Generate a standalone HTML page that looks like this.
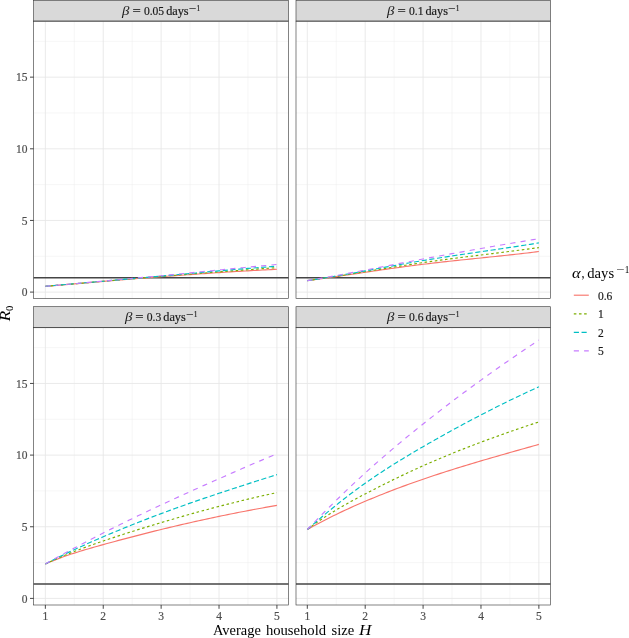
<!DOCTYPE html>
<html><head><meta charset="utf-8"><title>R0 vs household size</title>
<style>
html,body{margin:0;padding:0;background:#fff}
svg{display:block}
text{font-family:"Liberation Serif","DejaVu Serif",serif;fill:#1a1a1a;stroke:#1a1a1a;stroke-width:0.18px}
.s{font-size:11.5px}
.a{font-size:11.5px;fill:#4d4d4d;stroke:#4d4d4d}
.l{fill:#1a1a1a;stroke:#1a1a1a}
.t{font-size:14px;fill:#000;stroke:none}
.i{font-style:italic;stroke:none}
.sup{font-size:8px}
.sup2{font-size:9.8px}
.sub{font-size:9.8px}
</style></head><body>
<svg width="629" height="638" viewBox="0 0 629 638">
<rect width="629" height="638" fill="#fff"/>
<rect x="33.65" y="0.3" width="254.85" height="20.85" fill="#D9D9D9" stroke="#383838" stroke-width="0.62"/>
<rect x="33.65" y="21.15" width="254.85" height="277.4" fill="#fff"/>
<g fill="none"><path d="M33.65 256.28H288.5" stroke="#EBEBEB" stroke-width="0.45"/><path d="M33.65 184.63H288.5" stroke="#EBEBEB" stroke-width="0.45"/><path d="M33.65 112.98H288.5" stroke="#EBEBEB" stroke-width="0.45"/><path d="M33.65 41.33H288.5" stroke="#EBEBEB" stroke-width="0.45"/><path d="M74.30 21.15V298.54999999999995" stroke="#EBEBEB" stroke-width="0.45"/><path d="M132.19 21.15V298.54999999999995" stroke="#EBEBEB" stroke-width="0.45"/><path d="M190.07 21.15V298.54999999999995" stroke="#EBEBEB" stroke-width="0.45"/><path d="M247.97 21.15V298.54999999999995" stroke="#EBEBEB" stroke-width="0.45"/><path d="M33.65 292.10H288.5" stroke="#E6E6E6" stroke-width="0.85"/><path d="M33.65 220.45H288.5" stroke="#E6E6E6" stroke-width="0.85"/><path d="M33.65 148.80H288.5" stroke="#E6E6E6" stroke-width="0.85"/><path d="M33.65 77.15H288.5" stroke="#E6E6E6" stroke-width="0.85"/><path d="M45.35 21.15V298.54999999999995" stroke="#E6E6E6" stroke-width="0.85"/><path d="M103.24 21.15V298.54999999999995" stroke="#E6E6E6" stroke-width="0.85"/><path d="M161.13 21.15V298.54999999999995" stroke="#E6E6E6" stroke-width="0.85"/><path d="M219.02 21.15V298.54999999999995" stroke="#E6E6E6" stroke-width="0.85"/><path d="M276.91 21.15V298.54999999999995" stroke="#E6E6E6" stroke-width="0.85"/></g>
<path d="M33.65 277.77H288.5" stroke="#454545" stroke-width="1.45" fill="none"/>
<path d="M45.35 286.30L48.24 286.06L51.14 285.81L54.03 285.57L56.93 285.33L59.82 285.08L62.72 284.84L65.61 284.59L68.51 284.34L71.40 284.10L74.30 283.85L77.19 283.61L80.08 283.36L82.98 283.12L85.87 282.87L88.77 282.62L91.66 282.38L94.56 282.13L97.45 281.89L100.35 281.64L103.24 281.40L106.13 281.16L109.03 280.91L111.92 280.67L114.82 280.43L117.71 280.19L120.61 279.95L123.50 279.71L126.40 279.47L129.29 279.23L132.19 279.00L135.08 278.76L137.97 278.53L140.87 278.29L143.76 278.06L146.66 277.83L149.55 277.60L152.45 277.37L155.34 277.15L158.24 276.92L161.13 276.70L164.02 276.48L166.92 276.26L169.81 276.04L172.71 275.82L175.60 275.61L178.50 275.39L181.39 275.18L184.29 274.97L187.18 274.77L190.07 274.56L192.97 274.35L195.86 274.15L198.76 273.95L201.65 273.75L204.55 273.56L207.44 273.36L210.34 273.17L213.23 272.98L216.13 272.79L219.02 272.60L221.91 272.41L224.81 272.23L227.70 272.05L230.60 271.87L233.49 271.69L236.39 271.52L239.28 271.35L242.18 271.18L245.07 271.01L247.97 270.84L250.86 270.68L253.75 270.51L256.65 270.35L259.54 270.20L262.44 270.04L265.33 269.89L268.23 269.74L271.12 269.59L274.02 269.44L276.91 269.30" fill="none" stroke="#F8766D" stroke-width="1.15"/>
<path d="M45.35 286.30L48.24 286.05L51.14 285.81L54.03 285.56L56.93 285.31L59.82 285.06L62.72 284.81L65.61 284.57L68.51 284.32L71.40 284.06L74.30 283.81L77.19 283.56L80.08 283.31L82.98 283.06L85.87 282.81L88.77 282.56L91.66 282.31L94.56 282.05L97.45 281.80L100.35 281.55L103.24 281.30L106.13 281.05L109.03 280.80L111.92 280.55L114.82 280.30L117.71 280.05L120.61 279.80L123.50 279.55L126.40 279.30L129.29 279.06L132.19 278.81L135.08 278.57L137.97 278.32L140.87 278.08L143.76 277.83L146.66 277.59L149.55 277.35L152.45 277.11L155.34 276.87L158.24 276.64L161.13 276.40L164.02 276.17L166.92 275.93L169.81 275.70L172.71 275.47L175.60 275.24L178.50 275.01L181.39 274.78L184.29 274.56L187.18 274.33L190.07 274.10L192.97 273.88L195.86 273.66L198.76 273.44L201.65 273.21L204.55 272.99L207.44 272.77L210.34 272.55L213.23 272.34L216.13 272.12L219.02 271.90L221.91 271.68L224.81 271.47L227.70 271.25L230.60 271.03L233.49 270.82L236.39 270.60L239.28 270.39L242.18 270.17L245.07 269.96L247.97 269.75L250.86 269.53L253.75 269.32L256.65 269.10L259.54 268.89L262.44 268.67L265.33 268.46L268.23 268.25L271.12 268.03L274.02 267.82L276.91 267.60" fill="none" stroke="#7CAE00" stroke-width="1.15" stroke-dasharray="2.58 2.58"/>
<path d="M45.35 286.30L48.24 286.04L51.14 285.78L54.03 285.52L56.93 285.27L59.82 285.01L62.72 284.75L65.61 284.50L68.51 284.24L71.40 283.99L74.30 283.73L77.19 283.48L80.08 283.22L82.98 282.97L85.87 282.72L88.77 282.46L91.66 282.21L94.56 281.96L97.45 281.71L100.35 281.45L103.24 281.20L106.13 280.95L109.03 280.69L111.92 280.44L114.82 280.19L117.71 279.94L120.61 279.68L123.50 279.43L126.40 279.18L129.29 278.92L132.19 278.67L135.08 278.41L137.97 278.16L140.87 277.90L143.76 277.65L146.66 277.39L149.55 277.13L152.45 276.88L155.34 276.62L158.24 276.36L161.13 276.10L164.02 275.84L166.92 275.58L169.81 275.32L172.71 275.06L175.60 274.80L178.50 274.53L181.39 274.27L184.29 274.01L187.18 273.75L190.07 273.49L192.97 273.22L195.86 272.96L198.76 272.70L201.65 272.44L204.55 272.18L207.44 271.92L210.34 271.67L213.23 271.41L216.13 271.15L219.02 270.90L221.91 270.65L224.81 270.39L227.70 270.14L230.60 269.90L233.49 269.65L236.39 269.40L239.28 269.16L242.18 268.92L245.07 268.68L247.97 268.44L250.86 268.20L253.75 267.97L256.65 267.74L259.54 267.51L262.44 267.29L265.33 267.06L268.23 266.84L271.12 266.63L274.02 266.41L276.91 266.20" fill="none" stroke="#00BFC4" stroke-width="1.15" stroke-dasharray="5.16 2.58"/>
<path d="M45.35 286.30L48.24 286.04L51.14 285.78L54.03 285.52L56.93 285.26L59.82 285.01L62.72 284.75L65.61 284.49L68.51 284.23L71.40 283.97L74.30 283.71L77.19 283.45L80.08 283.19L82.98 282.93L85.87 282.67L88.77 282.41L91.66 282.15L94.56 281.89L97.45 281.62L100.35 281.36L103.24 281.10L106.13 280.84L109.03 280.57L111.92 280.31L114.82 280.04L117.71 279.78L120.61 279.51L123.50 279.25L126.40 278.98L129.29 278.71L132.19 278.44L135.08 278.17L137.97 277.90L140.87 277.63L143.76 277.36L146.66 277.08L149.55 276.81L152.45 276.53L155.34 276.26L158.24 275.98L161.13 275.70L164.02 275.42L166.92 275.14L169.81 274.86L172.71 274.58L175.60 274.29L178.50 274.01L181.39 273.72L184.29 273.44L187.18 273.15L190.07 272.87L192.97 272.58L195.86 272.29L198.76 272.01L201.65 271.72L204.55 271.43L207.44 271.14L210.34 270.86L213.23 270.57L216.13 270.29L219.02 270.00L221.91 269.71L224.81 269.43L227.70 269.15L230.60 268.86L233.49 268.58L236.39 268.30L239.28 268.02L242.18 267.74L245.07 267.46L247.97 267.18L250.86 266.91L253.75 266.63L256.65 266.36L259.54 266.09L262.44 265.82L265.33 265.55L268.23 265.29L271.12 265.02L274.02 264.76L276.91 264.50" fill="none" stroke="#C77CFF" stroke-width="1.15" stroke-dasharray="5.16 5.16"/>
<rect x="33.65" y="21.15" width="254.85" height="277.4" fill="none" stroke="#383838" stroke-width="0.62"/>
<path d="M33.65 21.25H288.5" stroke="#383838" stroke-width="0.5" fill="none"/>
<text class="s" y="14.6"><tspan class="i" x="122.07" textLength="7.40" lengthAdjust="spacingAndGlyphs">β</tspan><tspan x="132.47" textLength="8.30" lengthAdjust="spacingAndGlyphs">=</tspan><tspan x="143.92" textLength="20.25" lengthAdjust="spacingAndGlyphs">0.05</tspan><tspan x="166.17" textLength="22.50" lengthAdjust="spacingAndGlyphs">days</tspan><tspan class="sup" x="189.07" dy="-4.0" textLength="7.25" lengthAdjust="spacingAndGlyphs">−</tspan><tspan class="sup" x="196.57" textLength="3.70" lengthAdjust="spacingAndGlyphs">1</tspan></text>
<path d="M30.0 292.10H33.65" stroke="#333" stroke-width="0.9"/>
<text class="a" x="27.4" y="296.2" text-anchor="end">0</text>
<path d="M30.0 220.45H33.65" stroke="#333" stroke-width="0.9"/>
<text class="a" x="27.4" y="224.6" text-anchor="end">5</text>
<path d="M30.0 148.80H33.65" stroke="#333" stroke-width="0.9"/>
<text class="a" x="27.4" y="152.9" text-anchor="end">10</text>
<path d="M30.0 77.15H33.65" stroke="#333" stroke-width="0.9"/>
<text class="a" x="27.4" y="81.3" text-anchor="end">15</text>
<rect x="296.0" y="0.3" width="254.45" height="20.85" fill="#D9D9D9" stroke="#383838" stroke-width="0.62"/>
<rect x="296.0" y="21.15" width="254.45" height="277.4" fill="#fff"/>
<g fill="none"><path d="M296.0 256.28H550.45" stroke="#EBEBEB" stroke-width="0.45"/><path d="M296.0 184.63H550.45" stroke="#EBEBEB" stroke-width="0.45"/><path d="M296.0 112.98H550.45" stroke="#EBEBEB" stroke-width="0.45"/><path d="M296.0 41.33H550.45" stroke="#EBEBEB" stroke-width="0.45"/><path d="M336.25 21.15V298.54999999999995" stroke="#EBEBEB" stroke-width="0.45"/><path d="M394.13 21.15V298.54999999999995" stroke="#EBEBEB" stroke-width="0.45"/><path d="M452.02 21.15V298.54999999999995" stroke="#EBEBEB" stroke-width="0.45"/><path d="M509.92 21.15V298.54999999999995" stroke="#EBEBEB" stroke-width="0.45"/><path d="M296.0 292.10H550.45" stroke="#E6E6E6" stroke-width="0.85"/><path d="M296.0 220.45H550.45" stroke="#E6E6E6" stroke-width="0.85"/><path d="M296.0 148.80H550.45" stroke="#E6E6E6" stroke-width="0.85"/><path d="M296.0 77.15H550.45" stroke="#E6E6E6" stroke-width="0.85"/><path d="M307.30 21.15V298.54999999999995" stroke="#E6E6E6" stroke-width="0.85"/><path d="M365.19 21.15V298.54999999999995" stroke="#E6E6E6" stroke-width="0.85"/><path d="M423.08 21.15V298.54999999999995" stroke="#E6E6E6" stroke-width="0.85"/><path d="M480.97 21.15V298.54999999999995" stroke="#E6E6E6" stroke-width="0.85"/><path d="M538.86 21.15V298.54999999999995" stroke="#E6E6E6" stroke-width="0.85"/></g>
<path d="M296.0 277.77H550.45" stroke="#454545" stroke-width="1.45" fill="none"/>
<path d="M307.30 280.64L310.19 280.25L313.09 279.85L315.98 279.45L318.88 279.04L321.77 278.64L324.67 278.23L327.56 277.81L330.46 277.40L333.35 276.98L336.25 276.56L339.14 276.13L342.03 275.71L344.93 275.29L347.82 274.86L350.72 274.43L353.61 274.01L356.51 273.58L359.40 273.15L362.30 272.73L365.19 272.30L368.08 271.87L370.98 271.45L373.87 271.03L376.77 270.61L379.66 270.19L382.56 269.77L385.45 269.36L388.35 268.94L391.24 268.53L394.13 268.13L397.03 267.73L399.92 267.33L402.82 266.93L405.71 266.54L408.61 266.16L411.50 265.77L414.40 265.40L417.29 265.03L420.19 264.66L423.08 264.30L425.97 263.95L428.87 263.60L431.76 263.25L434.66 262.92L437.55 262.58L440.45 262.25L443.34 261.93L446.24 261.61L449.13 261.29L452.02 260.98L454.92 260.67L457.81 260.36L460.71 260.05L463.60 259.75L466.50 259.45L469.39 259.15L472.29 258.85L475.18 258.55L478.08 258.25L480.97 257.95L483.86 257.65L486.76 257.35L489.65 257.05L492.55 256.75L495.44 256.45L498.34 256.15L501.23 255.84L504.13 255.53L507.02 255.22L509.92 254.91L512.81 254.59L515.70 254.27L518.60 253.95L521.49 253.62L524.39 253.29L527.28 252.95L530.18 252.61L533.07 252.26L535.97 251.91L538.86 251.55" fill="none" stroke="#F8766D" stroke-width="1.15"/>
<path d="M307.30 280.64L310.19 280.23L313.09 279.82L315.98 279.40L318.88 278.98L321.77 278.55L324.67 278.12L327.56 277.68L330.46 277.24L333.35 276.79L336.25 276.34L339.14 275.89L342.03 275.43L344.93 274.97L347.82 274.51L350.72 274.04L353.61 273.58L356.51 273.11L359.40 272.64L362.30 272.17L365.19 271.70L368.08 271.23L370.98 270.76L373.87 270.29L376.77 269.82L379.66 269.35L382.56 268.88L385.45 268.41L388.35 267.94L391.24 267.48L394.13 267.02L397.03 266.56L399.92 266.11L402.82 265.65L405.71 265.20L408.61 264.76L411.50 264.32L414.40 263.88L417.29 263.45L420.19 263.02L423.08 262.60L425.97 262.18L428.87 261.77L431.76 261.37L434.66 260.97L437.55 260.57L440.45 260.18L443.34 259.79L446.24 259.41L449.13 259.02L452.02 258.65L454.92 258.27L457.81 257.90L460.71 257.53L463.60 257.17L466.50 256.80L469.39 256.44L472.29 256.08L475.18 255.72L478.08 255.36L480.97 255.00L483.86 254.64L486.76 254.28L489.65 253.93L492.55 253.57L495.44 253.21L498.34 252.85L501.23 252.49L504.13 252.13L507.02 251.77L509.92 251.40L512.81 251.04L515.70 250.67L518.60 250.29L521.49 249.92L524.39 249.54L527.28 249.16L530.18 248.78L533.07 248.39L535.97 248.00L538.86 247.60" fill="none" stroke="#7CAE00" stroke-width="1.15" stroke-dasharray="2.58 2.58"/>
<path d="M307.30 280.64L310.19 280.21L313.09 279.78L315.98 279.34L318.88 278.88L321.77 278.43L324.67 277.96L327.56 277.49L330.46 277.01L333.35 276.52L336.25 276.03L339.14 275.54L342.03 275.04L344.93 274.53L347.82 274.02L350.72 273.51L353.61 272.99L356.51 272.47L359.40 271.95L362.30 271.43L365.19 270.90L368.08 270.37L370.98 269.84L373.87 269.31L376.77 268.78L379.66 268.25L382.56 267.72L385.45 267.19L388.35 266.67L391.24 266.14L394.13 265.61L397.03 265.09L399.92 264.57L402.82 264.05L405.71 263.54L408.61 263.03L411.50 262.52L414.40 262.02L417.29 261.53L420.19 261.04L423.08 260.55L425.97 260.07L428.87 259.60L431.76 259.13L434.66 258.66L437.55 258.20L440.45 257.75L443.34 257.30L446.24 256.85L449.13 256.41L452.02 255.97L454.92 255.54L457.81 255.10L460.71 254.67L463.60 254.24L466.50 253.82L469.39 253.39L472.29 252.97L475.18 252.54L478.08 252.12L480.97 251.70L483.86 251.28L486.76 250.86L489.65 250.43L492.55 250.01L495.44 249.59L498.34 249.16L501.23 248.73L504.13 248.31L507.02 247.87L509.92 247.44L512.81 247.00L515.70 246.56L518.60 246.12L521.49 245.67L524.39 245.22L527.28 244.77L530.18 244.31L533.07 243.84L535.97 243.37L538.86 242.90" fill="none" stroke="#00BFC4" stroke-width="1.15" stroke-dasharray="5.16 2.58"/>
<path d="M307.30 280.64L310.19 280.15L313.09 279.65L315.98 279.15L318.88 278.65L321.77 278.14L324.67 277.62L327.56 277.10L330.46 276.58L333.35 276.06L336.25 275.53L339.14 275.00L342.03 274.46L344.93 273.93L347.82 273.39L350.72 272.84L353.61 272.30L356.51 271.75L359.40 271.20L362.30 270.65L365.19 270.10L368.08 269.55L370.98 268.99L373.87 268.44L376.77 267.88L379.66 267.32L382.56 266.76L385.45 266.21L388.35 265.65L391.24 265.09L394.13 264.53L397.03 263.97L399.92 263.42L402.82 262.86L405.71 262.30L408.61 261.75L411.50 261.20L414.40 260.64L417.29 260.09L420.19 259.55L423.08 259.00L425.97 258.46L428.87 257.91L431.76 257.37L434.66 256.84L437.55 256.30L440.45 255.77L443.34 255.24L446.24 254.71L449.13 254.18L452.02 253.65L454.92 253.13L457.81 252.61L460.71 252.09L463.60 251.57L466.50 251.05L469.39 250.54L472.29 250.03L475.18 249.52L478.08 249.01L480.97 248.50L483.86 247.99L486.76 247.49L489.65 246.99L492.55 246.49L495.44 245.99L498.34 245.49L501.23 245.00L504.13 244.51L507.02 244.01L509.92 243.52L512.81 243.03L515.70 242.55L518.60 242.06L521.49 241.58L524.39 241.09L527.28 240.61L530.18 240.13L533.07 239.65L535.97 239.18L538.86 238.70" fill="none" stroke="#C77CFF" stroke-width="1.15" stroke-dasharray="5.16 5.16"/>
<rect x="296.0" y="21.15" width="254.45" height="277.4" fill="none" stroke="#383838" stroke-width="0.62"/>
<path d="M296.0 21.25H550.45" stroke="#383838" stroke-width="0.5" fill="none"/>
<text class="s" y="14.6"><tspan class="i" x="387.10" textLength="7.40" lengthAdjust="spacingAndGlyphs">β</tspan><tspan x="397.50" textLength="8.30" lengthAdjust="spacingAndGlyphs">=</tspan><tspan x="408.95" textLength="14.50" lengthAdjust="spacingAndGlyphs">0.1</tspan><tspan x="425.45" textLength="22.50" lengthAdjust="spacingAndGlyphs">days</tspan><tspan class="sup" x="448.35" dy="-4.0" textLength="7.25" lengthAdjust="spacingAndGlyphs">−</tspan><tspan class="sup" x="455.85" textLength="3.70" lengthAdjust="spacingAndGlyphs">1</tspan></text>
<rect x="33.65" y="306.7" width="254.85" height="20.80" fill="#D9D9D9" stroke="#383838" stroke-width="0.62"/>
<rect x="33.65" y="327.5" width="254.85" height="277.5" fill="#fff"/>
<g fill="none"><path d="M33.65 562.57H288.5" stroke="#EBEBEB" stroke-width="0.45"/><path d="M33.65 490.92H288.5" stroke="#EBEBEB" stroke-width="0.45"/><path d="M33.65 419.27H288.5" stroke="#EBEBEB" stroke-width="0.45"/><path d="M33.65 347.62H288.5" stroke="#EBEBEB" stroke-width="0.45"/><path d="M74.30 327.5V605.0" stroke="#EBEBEB" stroke-width="0.45"/><path d="M132.19 327.5V605.0" stroke="#EBEBEB" stroke-width="0.45"/><path d="M190.07 327.5V605.0" stroke="#EBEBEB" stroke-width="0.45"/><path d="M247.97 327.5V605.0" stroke="#EBEBEB" stroke-width="0.45"/><path d="M33.65 598.40H288.5" stroke="#E6E6E6" stroke-width="0.85"/><path d="M33.65 526.75H288.5" stroke="#E6E6E6" stroke-width="0.85"/><path d="M33.65 455.10H288.5" stroke="#E6E6E6" stroke-width="0.85"/><path d="M33.65 383.45H288.5" stroke="#E6E6E6" stroke-width="0.85"/><path d="M45.35 327.5V605.0" stroke="#E6E6E6" stroke-width="0.85"/><path d="M103.24 327.5V605.0" stroke="#E6E6E6" stroke-width="0.85"/><path d="M161.13 327.5V605.0" stroke="#E6E6E6" stroke-width="0.85"/><path d="M219.02 327.5V605.0" stroke="#E6E6E6" stroke-width="0.85"/><path d="M276.91 327.5V605.0" stroke="#E6E6E6" stroke-width="0.85"/></g>
<path d="M33.65 584.07H288.5" stroke="#454545" stroke-width="1.45" fill="none"/>
<path d="M45.35 564.00L48.24 562.74L51.14 561.53L54.03 560.36L56.93 559.22L59.82 558.12L62.72 557.06L65.61 556.03L68.51 555.02L71.40 554.05L74.30 553.10L77.19 552.18L80.08 551.27L82.98 550.39L85.87 549.53L88.77 548.68L91.66 547.84L94.56 547.02L97.45 546.21L100.35 545.40L103.24 544.60L106.13 543.80L109.03 543.01L111.92 542.22L114.82 541.44L117.71 540.66L120.61 539.89L123.50 539.11L126.40 538.35L129.29 537.58L132.19 536.83L135.08 536.07L137.97 535.32L140.87 534.58L143.76 533.84L146.66 533.10L149.55 532.37L152.45 531.65L155.34 530.93L158.24 530.21L161.13 529.50L164.02 528.80L166.92 528.10L169.81 527.40L172.71 526.71L175.60 526.03L178.50 525.35L181.39 524.68L184.29 524.01L187.18 523.35L190.07 522.69L192.97 522.04L195.86 521.39L198.76 520.75L201.65 520.11L204.55 519.48L207.44 518.85L210.34 518.23L213.23 517.62L216.13 517.01L219.02 516.40L221.91 515.80L224.81 515.21L227.70 514.62L230.60 514.03L233.49 513.45L236.39 512.88L239.28 512.31L242.18 511.75L245.07 511.19L247.97 510.64L250.86 510.09L253.75 509.55L256.65 509.01L259.54 508.48L262.44 507.95L265.33 507.43L268.23 506.92L271.12 506.41L274.02 505.90L276.91 505.40" fill="none" stroke="#F8766D" stroke-width="1.15"/>
<path d="M45.35 564.00L48.24 562.63L51.14 561.28L54.03 559.97L56.93 558.68L59.82 557.43L62.72 556.19L65.61 554.99L68.51 553.80L71.40 552.64L74.30 551.50L77.19 550.38L80.08 549.28L82.98 548.19L85.87 547.13L88.77 546.07L91.66 545.04L94.56 544.01L97.45 543.00L100.35 541.99L103.24 541.00L106.13 540.01L109.03 539.04L111.92 538.07L114.82 537.10L117.71 536.15L120.61 535.20L123.50 534.26L126.40 533.33L129.29 532.40L132.19 531.48L135.08 530.57L137.97 529.66L140.87 528.76L143.76 527.86L146.66 526.97L149.55 526.09L152.45 525.21L155.34 524.33L158.24 523.46L161.13 522.60L164.02 521.74L166.92 520.89L169.81 520.04L172.71 519.19L175.60 518.35L178.50 517.52L181.39 516.69L184.29 515.86L187.18 515.05L190.07 514.23L192.97 513.42L195.86 512.62L198.76 511.82L201.65 511.03L204.55 510.24L207.44 509.46L210.34 508.69L213.23 507.92L216.13 507.16L219.02 506.40L221.91 505.65L224.81 504.90L227.70 504.16L230.60 503.43L233.49 502.71L236.39 501.98L239.28 501.27L242.18 500.56L245.07 499.86L247.97 499.17L250.86 498.48L253.75 497.80L256.65 497.13L259.54 496.46L262.44 495.80L265.33 495.14L268.23 494.50L271.12 493.86L274.02 493.23L276.91 492.60" fill="none" stroke="#7CAE00" stroke-width="1.15" stroke-dasharray="2.58 2.58"/>
<path d="M45.35 564.00L48.24 562.48L51.14 560.97L54.03 559.49L56.93 558.03L59.82 556.59L62.72 555.17L65.61 553.76L68.51 552.38L71.40 551.00L74.30 549.65L77.19 548.31L80.08 546.98L82.98 545.67L85.87 544.37L88.77 543.09L91.66 541.81L94.56 540.54L97.45 539.29L100.35 538.04L103.24 536.80L106.13 535.57L109.03 534.34L111.92 533.13L114.82 531.92L117.71 530.71L120.61 529.52L123.50 528.33L126.40 527.15L129.29 525.98L132.19 524.82L135.08 523.66L137.97 522.51L140.87 521.37L143.76 520.24L146.66 519.11L149.55 517.99L152.45 516.88L155.34 515.78L158.24 514.69L161.13 513.60L164.02 512.52L166.92 511.45L169.81 510.39L172.71 509.33L175.60 508.29L178.50 507.25L181.39 506.21L184.29 505.18L187.18 504.16L190.07 503.15L192.97 502.14L195.86 501.14L198.76 500.14L201.65 499.15L204.55 498.16L207.44 497.18L210.34 496.20L213.23 495.23L216.13 494.26L219.02 493.30L221.91 492.34L224.81 491.38L227.70 490.43L230.60 489.48L233.49 488.54L236.39 487.60L239.28 486.66L242.18 485.72L245.07 484.78L247.97 483.85L250.86 482.92L253.75 481.99L256.65 481.06L259.54 480.14L262.44 479.21L265.33 478.29L268.23 477.37L271.12 476.44L274.02 475.52L276.91 474.60" fill="none" stroke="#00BFC4" stroke-width="1.15" stroke-dasharray="5.16 2.58"/>
<path d="M45.35 564.00L48.24 562.37L51.14 560.75L54.03 559.14L56.93 557.54L59.82 555.95L62.72 554.36L65.61 552.78L68.51 551.21L71.40 549.65L74.30 548.10L77.19 546.55L80.08 545.02L82.98 543.49L85.87 541.97L88.77 540.45L91.66 538.95L94.56 537.45L97.45 535.96L100.35 534.47L103.24 533.00L106.13 531.53L109.03 530.07L111.92 528.62L114.82 527.18L117.71 525.74L120.61 524.31L123.50 522.88L126.40 521.46L129.29 520.05L132.19 518.65L135.08 517.25L137.97 515.85L140.87 514.47L143.76 513.08L146.66 511.71L149.55 510.34L152.45 508.97L155.34 507.61L158.24 506.25L161.13 504.90L164.02 503.55L166.92 502.21L169.81 500.87L172.71 499.54L175.60 498.21L178.50 496.88L181.39 495.56L184.29 494.24L187.18 492.92L190.07 491.61L192.97 490.31L195.86 489.00L198.76 487.70L201.65 486.41L204.55 485.11L207.44 483.83L210.34 482.54L213.23 481.26L216.13 479.98L219.02 478.70L221.91 477.43L224.81 476.16L227.70 474.89L230.60 473.62L233.49 472.36L236.39 471.10L239.28 469.84L242.18 468.59L245.07 467.34L247.97 466.09L250.86 464.84L253.75 463.59L256.65 462.35L259.54 461.11L262.44 459.87L265.33 458.63L268.23 457.40L271.12 456.16L274.02 454.93L276.91 453.70" fill="none" stroke="#C77CFF" stroke-width="1.15" stroke-dasharray="5.16 5.16"/>
<rect x="33.65" y="327.5" width="254.85" height="277.5" fill="none" stroke="#383838" stroke-width="0.62"/>
<path d="M33.65 327.60H288.5" stroke="#383838" stroke-width="0.5" fill="none"/>
<text class="s" y="321.0"><tspan class="i" x="124.95" textLength="7.40" lengthAdjust="spacingAndGlyphs">β</tspan><tspan x="135.35" textLength="8.30" lengthAdjust="spacingAndGlyphs">=</tspan><tspan x="146.80" textLength="14.50" lengthAdjust="spacingAndGlyphs">0.3</tspan><tspan x="163.30" textLength="22.50" lengthAdjust="spacingAndGlyphs">days</tspan><tspan class="sup" x="186.20" dy="-4.0" textLength="7.25" lengthAdjust="spacingAndGlyphs">−</tspan><tspan class="sup" x="193.70" textLength="3.70" lengthAdjust="spacingAndGlyphs">1</tspan></text>
<path d="M30.0 598.40H33.65" stroke="#333" stroke-width="0.9"/>
<text class="a" x="27.4" y="602.5" text-anchor="end">0</text>
<path d="M30.0 526.75H33.65" stroke="#333" stroke-width="0.9"/>
<text class="a" x="27.4" y="530.9" text-anchor="end">5</text>
<path d="M30.0 455.10H33.65" stroke="#333" stroke-width="0.9"/>
<text class="a" x="27.4" y="459.2" text-anchor="end">10</text>
<path d="M30.0 383.45H33.65" stroke="#333" stroke-width="0.9"/>
<text class="a" x="27.4" y="387.6" text-anchor="end">15</text>
<path d="M45.35 605.0V608.80" stroke="#333" stroke-width="0.9"/>
<text class="a" x="45.4" y="620.0" text-anchor="middle">1</text>
<path d="M103.24 605.0V608.80" stroke="#333" stroke-width="0.9"/>
<text class="a" x="103.2" y="620.0" text-anchor="middle">2</text>
<path d="M161.13 605.0V608.80" stroke="#333" stroke-width="0.9"/>
<text class="a" x="161.1" y="620.0" text-anchor="middle">3</text>
<path d="M219.02 605.0V608.80" stroke="#333" stroke-width="0.9"/>
<text class="a" x="219.0" y="620.0" text-anchor="middle">4</text>
<path d="M276.91 605.0V608.80" stroke="#333" stroke-width="0.9"/>
<text class="a" x="276.9" y="620.0" text-anchor="middle">5</text>
<rect x="296.0" y="306.7" width="254.45" height="20.80" fill="#D9D9D9" stroke="#383838" stroke-width="0.62"/>
<rect x="296.0" y="327.5" width="254.45" height="277.5" fill="#fff"/>
<g fill="none"><path d="M296.0 562.57H550.45" stroke="#EBEBEB" stroke-width="0.45"/><path d="M296.0 490.92H550.45" stroke="#EBEBEB" stroke-width="0.45"/><path d="M296.0 419.27H550.45" stroke="#EBEBEB" stroke-width="0.45"/><path d="M296.0 347.62H550.45" stroke="#EBEBEB" stroke-width="0.45"/><path d="M336.25 327.5V605.0" stroke="#EBEBEB" stroke-width="0.45"/><path d="M394.13 327.5V605.0" stroke="#EBEBEB" stroke-width="0.45"/><path d="M452.02 327.5V605.0" stroke="#EBEBEB" stroke-width="0.45"/><path d="M509.92 327.5V605.0" stroke="#EBEBEB" stroke-width="0.45"/><path d="M296.0 598.40H550.45" stroke="#E6E6E6" stroke-width="0.85"/><path d="M296.0 526.75H550.45" stroke="#E6E6E6" stroke-width="0.85"/><path d="M296.0 455.10H550.45" stroke="#E6E6E6" stroke-width="0.85"/><path d="M296.0 383.45H550.45" stroke="#E6E6E6" stroke-width="0.85"/><path d="M307.30 327.5V605.0" stroke="#E6E6E6" stroke-width="0.85"/><path d="M365.19 327.5V605.0" stroke="#E6E6E6" stroke-width="0.85"/><path d="M423.08 327.5V605.0" stroke="#E6E6E6" stroke-width="0.85"/><path d="M480.97 327.5V605.0" stroke="#E6E6E6" stroke-width="0.85"/><path d="M538.86 327.5V605.0" stroke="#E6E6E6" stroke-width="0.85"/></g>
<path d="M296.0 584.07H550.45" stroke="#454545" stroke-width="1.45" fill="none"/>
<path d="M307.30 529.50L310.19 527.88L313.09 526.29L315.98 524.72L318.88 523.18L321.77 521.66L324.67 520.17L327.56 518.69L330.46 517.24L333.35 515.81L336.25 514.40L339.14 513.01L342.03 511.64L344.93 510.29L347.82 508.95L350.72 507.64L353.61 506.34L356.51 505.06L359.40 503.79L362.30 502.54L365.19 501.30L368.08 500.08L370.98 498.87L373.87 497.67L376.77 496.49L379.66 495.32L382.56 494.16L385.45 493.02L388.35 491.89L391.24 490.77L394.13 489.66L397.03 488.56L399.92 487.48L402.82 486.41L405.71 485.35L408.61 484.30L411.50 483.26L414.40 482.23L417.29 481.21L420.19 480.20L423.08 479.20L425.97 478.21L428.87 477.23L431.76 476.26L434.66 475.30L437.55 474.34L440.45 473.40L443.34 472.46L446.24 471.53L449.13 470.61L452.02 469.70L454.92 468.79L457.81 467.89L460.71 467.00L463.60 466.11L466.50 465.23L469.39 464.35L472.29 463.48L475.18 462.62L478.08 461.76L480.97 460.90L483.86 460.05L486.76 459.20L489.65 458.36L492.55 457.52L495.44 456.69L498.34 455.85L501.23 455.03L504.13 454.20L507.02 453.38L509.92 452.55L512.81 451.73L515.70 450.92L518.60 450.10L521.49 449.28L524.39 448.47L527.28 447.65L530.18 446.84L533.07 446.03L535.97 445.21L538.86 444.40" fill="none" stroke="#F8766D" stroke-width="1.15"/>
<path d="M307.30 529.50L310.19 527.30L313.09 525.16L315.98 523.08L318.88 521.06L321.77 519.08L324.67 517.16L327.56 515.28L330.46 513.45L333.35 511.65L336.25 509.90L339.14 508.18L342.03 506.50L344.93 504.84L347.82 503.22L350.72 501.62L353.61 500.04L356.51 498.48L359.40 496.94L362.30 495.41L365.19 493.90L368.08 492.40L370.98 490.90L373.87 489.42L376.77 487.94L379.66 486.48L382.56 485.02L385.45 483.58L388.35 482.14L391.24 480.72L394.13 479.30L397.03 477.90L399.92 476.51L402.82 475.13L405.71 473.76L408.61 472.41L411.50 471.06L414.40 469.73L417.29 468.41L420.19 467.10L423.08 465.80L425.97 464.52L428.87 463.24L431.76 461.98L434.66 460.73L437.55 459.50L440.45 458.27L443.34 457.06L446.24 455.86L449.13 454.66L452.02 453.48L454.92 452.31L457.81 451.15L460.71 450.00L463.60 448.86L466.50 447.72L469.39 446.60L472.29 445.49L475.18 444.38L478.08 443.29L480.97 442.20L483.86 441.12L486.76 440.05L489.65 438.99L492.55 437.93L495.44 436.88L498.34 435.84L501.23 434.81L504.13 433.78L507.02 432.76L509.92 431.74L512.81 430.73L515.70 429.73L518.60 428.74L521.49 427.74L524.39 426.76L527.28 425.78L530.18 424.80L533.07 423.83L535.97 422.86L538.86 421.90" fill="none" stroke="#7CAE00" stroke-width="1.15" stroke-dasharray="2.58 2.58"/>
<path d="M307.30 529.50L310.19 526.96L313.09 524.44L315.98 521.95L318.88 519.47L321.77 517.02L324.67 514.59L327.56 512.18L330.46 509.80L333.35 507.44L336.25 505.10L339.14 502.79L342.03 500.50L344.93 498.25L347.82 496.01L350.72 493.81L353.61 491.63L356.51 489.48L359.40 487.36L362.30 485.26L365.19 483.20L368.08 481.17L370.98 479.16L373.87 477.18L376.77 475.23L379.66 473.30L382.56 471.40L385.45 469.52L388.35 467.66L391.24 465.83L394.13 464.01L397.03 462.21L399.92 460.43L402.82 458.67L405.71 456.92L408.61 455.19L411.50 453.47L414.40 451.76L417.29 450.06L420.19 448.38L423.08 446.70L425.97 445.03L428.87 443.37L431.76 441.72L434.66 440.07L437.55 438.43L440.45 436.80L443.34 435.18L446.24 433.57L449.13 431.97L452.02 430.37L454.92 428.78L457.81 427.21L460.71 425.64L463.60 424.08L466.50 422.52L469.39 420.98L472.29 419.45L475.18 417.92L478.08 416.41L480.97 414.90L483.86 413.40L486.76 411.91L489.65 410.44L492.55 408.97L495.44 407.51L498.34 406.06L501.23 404.62L504.13 403.19L507.02 401.76L509.92 400.35L512.81 398.95L515.70 397.56L518.60 396.18L521.49 394.81L524.39 393.45L527.28 392.10L530.18 390.76L533.07 389.43L535.97 388.11L538.86 386.80" fill="none" stroke="#00BFC4" stroke-width="1.15" stroke-dasharray="5.16 2.58"/>
<path d="M307.30 529.50L310.19 526.50L313.09 523.52L315.98 520.55L318.88 517.60L321.77 514.68L324.67 511.76L327.56 508.87L330.46 505.99L333.35 503.14L336.25 500.30L339.14 497.48L342.03 494.68L344.93 491.90L347.82 489.14L350.72 486.40L353.61 483.68L356.51 480.98L359.40 478.30L362.30 475.64L365.19 473.00L368.08 470.38L370.98 467.78L373.87 465.21L376.77 462.65L379.66 460.11L382.56 457.59L385.45 455.09L388.35 452.61L391.24 450.14L394.13 447.69L397.03 445.25L399.92 442.84L402.82 440.43L405.71 438.05L408.61 435.67L411.50 433.31L414.40 430.96L417.29 428.63L420.19 426.31L423.08 424.00L425.97 421.70L428.87 419.42L431.76 417.14L434.66 414.88L437.55 412.62L440.45 410.38L443.34 408.15L446.24 405.93L449.13 403.72L452.02 401.52L454.92 399.33L457.81 397.15L460.71 394.99L463.60 392.83L466.50 390.68L469.39 388.55L472.29 386.42L475.18 384.30L478.08 382.20L480.97 380.10L483.86 378.01L486.76 375.94L489.65 373.87L492.55 371.81L495.44 369.76L498.34 367.72L501.23 365.69L504.13 363.67L507.02 361.66L509.92 359.65L512.81 357.66L515.70 355.68L518.60 353.70L521.49 351.73L524.39 349.77L527.28 347.82L530.18 345.88L533.07 343.94L535.97 342.02L538.86 340.10" fill="none" stroke="#C77CFF" stroke-width="1.15" stroke-dasharray="5.16 5.16"/>
<rect x="296.0" y="327.5" width="254.45" height="277.5" fill="none" stroke="#383838" stroke-width="0.62"/>
<path d="M296.0 327.60H550.45" stroke="#383838" stroke-width="0.5" fill="none"/>
<text class="s" y="321.0"><tspan class="i" x="387.10" textLength="7.40" lengthAdjust="spacingAndGlyphs">β</tspan><tspan x="397.50" textLength="8.30" lengthAdjust="spacingAndGlyphs">=</tspan><tspan x="408.95" textLength="14.50" lengthAdjust="spacingAndGlyphs">0.6</tspan><tspan x="425.45" textLength="22.50" lengthAdjust="spacingAndGlyphs">days</tspan><tspan class="sup" x="448.35" dy="-4.0" textLength="7.25" lengthAdjust="spacingAndGlyphs">−</tspan><tspan class="sup" x="455.85" textLength="3.70" lengthAdjust="spacingAndGlyphs">1</tspan></text>
<path d="M307.30 605.0V608.80" stroke="#333" stroke-width="0.9"/>
<text class="a" x="307.3" y="620.0" text-anchor="middle">1</text>
<path d="M365.19 605.0V608.80" stroke="#333" stroke-width="0.9"/>
<text class="a" x="365.2" y="620.0" text-anchor="middle">2</text>
<path d="M423.08 605.0V608.80" stroke="#333" stroke-width="0.9"/>
<text class="a" x="423.1" y="620.0" text-anchor="middle">3</text>
<path d="M480.97 605.0V608.80" stroke="#333" stroke-width="0.9"/>
<text class="a" x="481.0" y="620.0" text-anchor="middle">4</text>
<path d="M538.86 605.0V608.80" stroke="#333" stroke-width="0.9"/>
<text class="a" x="538.9" y="620.0" text-anchor="middle">5</text>
<text class="t" y="634.9"><tspan x="213.00" textLength="47.80" lengthAdjust="spacingAndGlyphs">Average</tspan><tspan x="265.90" textLength="60.20" lengthAdjust="spacingAndGlyphs">household</tspan><tspan x="331.50" textLength="22.70" lengthAdjust="spacingAndGlyphs">size</tspan><tspan class="i" x="358.90" textLength="12.40" lengthAdjust="spacingAndGlyphs">H</tspan></text>
<text class="t" transform="translate(10.3 321.4) rotate(-90)"><tspan class="i" x="0.20" textLength="10.40" lengthAdjust="spacingAndGlyphs">R</tspan><tspan class="sub" x="10.40" dy="2.3" textLength="5.30" lengthAdjust="spacingAndGlyphs">0</tspan></text>
<text class="t" y="277.7"><tspan class="i" x="572.00" textLength="8.60" lengthAdjust="spacingAndGlyphs">α</tspan><tspan x="581.60" textLength="3.00" lengthAdjust="spacingAndGlyphs">,</tspan><tspan x="587.30" textLength="26.85" lengthAdjust="spacingAndGlyphs">days</tspan><tspan class="sup2" x="616.20" dy="-4.6" textLength="8.30" lengthAdjust="spacingAndGlyphs">−</tspan><tspan class="sup2" x="624.70" textLength="4.60" lengthAdjust="spacingAndGlyphs">1</tspan></text>
<path d="M573.8 295.2H588.8" stroke="#F8766D" stroke-width="1.15" fill="none"/>
<text class="a l" x="597.9" y="299.6">0.6</text>
<path d="M573.8 313.8H588.8" stroke="#7CAE00" stroke-width="1.15" fill="none" stroke-dasharray="2.58 2.58"/>
<text class="a l" x="597.9" y="318.2">1</text>
<path d="M573.8 332.4H588.8" stroke="#00BFC4" stroke-width="1.15" fill="none" stroke-dasharray="5.16 2.58"/>
<text class="a l" x="597.9" y="336.8">2</text>
<path d="M573.8 350.9H588.8" stroke="#C77CFF" stroke-width="1.15" fill="none" stroke-dasharray="5.16 5.16"/>
<text class="a l" x="597.9" y="355.3">5</text>
</svg>
</body></html>
